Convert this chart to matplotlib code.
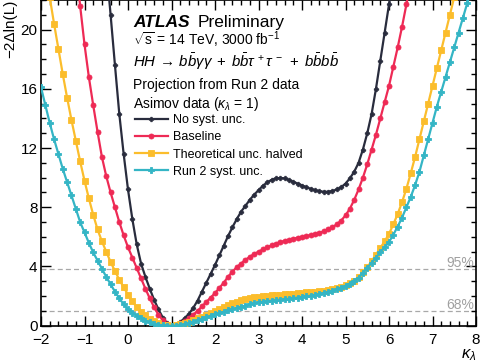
#!/usr/bin/env python3
"""Likelihood scan in kappa_lambda: HH combination projection to 3000 fb-1."""
import numpy as np
import matplotlib
matplotlib.use("Agg")
import matplotlib.pyplot as plt
from matplotlib.ticker import MultipleLocator

plt.rcParams["font.family"] = ["Liberation Sans", "DejaVu Sans"]
plt.rcParams["mathtext.fontset"] = "custom"
plt.rcParams["mathtext.rm"] = "Liberation Sans"
plt.rcParams["mathtext.it"] = "Liberation Sans:italic"
plt.rcParams["mathtext.bf"] = "Liberation Sans:bold"

# scan step in kappa_lambda
STEP = 0.1

# No syst. unc. (starts at kappa = -0.5)
nosyst_start = -0.5
nosyst = [24.3, 21.0, 17.6, 14.3, 11.6, 9.2, 7.2, 5.5, 4.2, 3.3,
          2.5, 1.75, 1.1, 0.55, 0.15, 0.0,
          0.08, 0.25, 0.5, 0.8, 1.2, 1.7, 2.3, 2.9, 3.5, 4.1,
          4.75, 5.4, 6.05, 6.65, 7.2, 7.7, 8.1, 8.5, 8.85, 9.15,
          9.45, 9.68, 9.85, 9.95, 9.98, 9.95, 9.85, 9.72, 9.6, 9.47,
          9.35, 9.25, 9.15, 9.08, 9.05, 9.05, 9.1, 9.2, 9.35, 9.6,
          9.95, 10.4, 11.0, 11.9, 13.0, 14.3, 16.0, 17.9, 19.8, 21.7,
          23.6]

# Baseline (starts at kappa = -1.2)
baseline_start = -1.2
baseline = [24.3, 21.6, 19.0, 16.8, 14.9, 13.1, 11.4, 10.1, 9.0, 8.0,
            7.0, 6.1, 5.3, 4.6, 3.9, 3.2, 2.5, 1.85, 1.25, 0.75,
            0.38, 0.1, 0.0,
            0.05, 0.15, 0.3, 0.5, 0.75, 1.0, 1.3, 1.6, 1.9, 2.2,
            2.55, 2.9, 3.3, 3.65, 3.95, 4.2, 4.45, 4.65, 4.85, 5.0,
            5.15, 5.3, 5.42, 5.55, 5.65, 5.72, 5.8, 5.87, 5.94, 6.0,
            6.06, 6.12, 6.2, 6.28, 6.38, 6.5, 6.65, 6.85, 7.1, 7.45,
            7.9, 8.5, 9.2, 10.0, 10.9, 11.9, 12.9, 14.0, 15.1, 16.2,
            17.5, 18.8, 20.2, 21.7, 23.2]

# Theoretical unc. halved (starts at kappa = -1.9)
theo_start = -1.9
theo_half = [24.1, 22.2, 20.4, 18.7, 17.0, 15.4, 13.9, 12.5, 11.1, 9.8,
             8.6, 7.5, 6.5, 5.7, 5.0, 4.3, 3.7, 3.1, 2.6, 2.1,
             1.65, 1.25, 0.95, 0.7, 0.48, 0.3, 0.17, 0.08, 0.02, 0.0,
             0.02, 0.09, 0.18, 0.28, 0.39, 0.5, 0.61, 0.73, 0.85, 0.97,
             1.1, 1.25, 1.4, 1.52, 1.62, 1.71, 1.79, 1.86, 1.92, 1.96,
             2.0, 2.03, 2.05, 2.07, 2.09, 2.11, 2.13, 2.16, 2.19, 2.22,
             2.25, 2.28, 2.31, 2.34, 2.37, 2.41, 2.46, 2.53, 2.62, 2.72,
             2.86, 3.05, 3.3, 3.6, 3.95, 4.35, 4.8, 5.25, 5.7, 6.2,
             6.85, 7.55, 8.35, 9.25, 10.3, 11.4, 12.6, 13.8, 15.0, 16.2,
             17.4, 18.6, 19.8, 21.0, 22.2, 23.4]

# Run 2 syst. unc. (starts at kappa = -2.0)
run2_start = -2.0
run2_syst = [16.1, 14.9, 13.7, 12.6, 11.6, 10.6, 9.7, 8.8, 7.9, 7.0,
             6.3, 5.6, 4.95, 4.4, 3.85, 3.3, 2.8, 2.3, 1.85, 1.45,
             1.12, 0.88, 0.68, 0.5, 0.35, 0.22, 0.13, 0.07, 0.03, 0.01,
             0.0,
             0.01, 0.04, 0.1, 0.17, 0.26, 0.36, 0.46, 0.56, 0.66, 0.76,
             0.85, 0.94, 1.03, 1.12, 1.2, 1.28, 1.36, 1.44, 1.52, 1.58,
             1.62, 1.66, 1.7, 1.73, 1.76, 1.79, 1.82, 1.86, 1.9, 1.94,
             1.98, 2.03, 2.08, 2.14, 2.2, 2.27, 2.35, 2.45, 2.57, 2.7,
             2.85, 3.02, 3.25, 3.55, 3.9, 4.25, 4.6, 4.95, 5.3, 5.65,
             6.15, 6.7, 7.3, 8.0, 8.7, 9.5, 10.4, 11.5, 12.6, 13.7,
             14.8, 15.8, 16.8, 17.8, 18.8, 19.8, 20.8, 21.8, 22.8]

# confidence level thresholds
cl_values = [1.0, 3.84]
cl_labels = ["68%", "95%"]

SERIES = [
    ("No syst. unc.", nosyst_start, nosyst, "#292c3d", "P", 3.2),
    ("Baseline", baseline_start, baseline, "#ee2a55", "o", 3.6),
    ("Theoretical unc. halved", theo_start, theo_half, "#fbbd2c", "s", 4.0),
    ("Run 2 syst. unc.", run2_start, run2_syst, "#34b5c5", "P", 4.4),
]


def kappa_grid(start, values):
    return np.round(start + STEP * np.arange(len(values)), 2)


fig = plt.figure(figsize=(4.8, 3.62), dpi=100)
ax = fig.add_axes([41 / 480, 1 - 325.7 / 362, 435 / 480, 325.7 / 362])

for cl, lab in zip(cl_values, cl_labels):
    ax.axhline(cl, color="#a8a8a8", lw=0.9, ls=(0, (4, 2.5)), zorder=1)
    ax.text(7.95, cl + 0.12, lab, color="#a0a0a0", fontsize=10,
            ha="right", va="baseline")

for label, start, vals, color, marker, ms in SERIES:
    ax.plot(kappa_grid(start, vals), vals, color=color, lw=1.6,
            marker=marker, ms=ms, mec=color, mew=0.6, label=label,
            zorder=3, clip_on=True)

ax.set_xlim(-2, 8)
ax.set_ylim(0, 22)
ax.xaxis.set_minor_locator(MultipleLocator(0.2))
ax.yaxis.set_minor_locator(MultipleLocator(1))
ax.set_xticks(range(-2, 9))
ax.set_xticklabels(["\u22122", "\u22121", "0", "1", "2", "3", "4", "5", "6", "7", "8"])
ax.set_yticks(range(0, 21, 4))
ax.tick_params(which="both", direction="in", top=True, right=True,
               labelsize=11, width=1.0)
ax.tick_params(which="major", length=7.5)
ax.tick_params(which="minor", length=3.8)
ax.tick_params(axis="x", which="major", pad=5.5)
ax.tick_params(axis="y", which="major", pad=2.5)
for sp in ax.spines.values():
    sp.set_linewidth(1.2)

ax.set_xlabel(r"$\kappa_\lambda$", fontsize=12, loc="right", labelpad=0)
ax.set_ylabel("\u22122\u0394ln(L)", fontsize=11, loc="top", labelpad=2)

x0 = 133 / 480
fig.text(x0, 0.926, "ATLAS", fontsize=12.5, fontweight="bold", style="italic")
fig.text(198 / 480, 0.926, "Preliminary", fontsize=12.5)
fig.text(x0, 0.8757, r"$\sqrt{\mathrm{s}}$ = 14 TeV, 3000 fb$^{-1}$", fontsize=10)
fig.text(x0, 0.8158,
         r"$HH\,\rightarrow\,b\bar{b}\gamma\gamma\;+\;b\bar{b}\tau^{\,+}\tau^{\,-}\;+\;b\bar{b}b\bar{b}$",
         fontsize=10.8)
fig.text(x0, 0.7533, "Projection from Run 2 data", fontsize=10)
fig.text(x0, 0.7008, r"Asimov data ($\kappa_\lambda$ = 1)", fontsize=10)

ax.legend(loc="upper left", bbox_to_anchor=(135 / 480, 1 - 114 / 362),
          bbox_transform=fig.transFigure, frameon=False, fontsize=9,
          handlelength=2.6, handletextpad=0.45, labelspacing=0.42,
          borderpad=0, borderaxespad=0, numpoints=1)

fig.savefig("out.png", dpi=100)
